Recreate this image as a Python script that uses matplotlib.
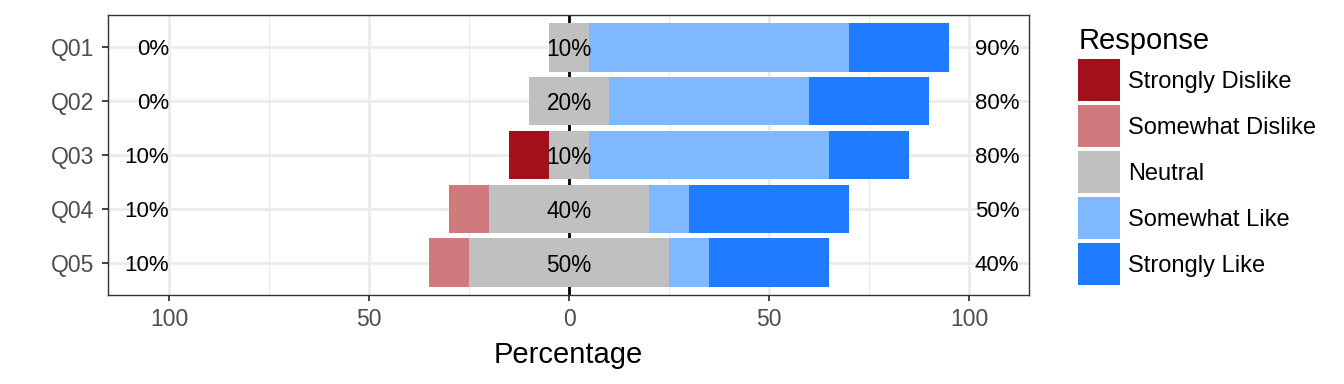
import matplotlib.pyplot as plt
from matplotlib.patches import Patch
from matplotlib.ticker import FixedLocator

plt.rcParams["font.family"] = ["Liberation Sans", "DejaVu Sans"]

items = ["Q01", "Q02", "Q03", "Q04", "Q05"]
levels = ["Strongly Dislike", "Somewhat Dislike", "Neutral", "Somewhat Like", "Strongly Like"]
colors = ["#A3121B", "#CF7B7E", "#C0C0C0", "#7FB8FF", "#1F7BFF"]

strongly_dislike = [0, 0, 10, 0, 0]
somewhat_dislike = [0, 0, 0, 10, 10]
neutral = [10, 20, 10, 40, 50]
somewhat_like = [65, 50, 60, 10, 10]
strongly_like = [25, 30, 20, 40, 30]

low_labels = ["0%", "0%", "10%", "10%", "10%"]
mid_labels = ["10%", "20%", "10%", "40%", "50%"]
high_labels = ["90%", "80%", "80%", "50%", "40%"]

fig = plt.figure(figsize=(13.44, 3.84), dpi=100)
ax = fig.add_axes([0.0804, 0.2318, 0.6852, 0.7291])

y = list(range(len(items)))
h = 0.9

# negative side: neutral centred on zero, dislikes stacked to the left
neg_start = [-n / 2 for n in neutral]
ax.barh(y, neutral, left=neg_start, height=h, color=colors[2], zorder=3)
left_sw = [s - w for s, w in zip(neg_start, somewhat_dislike)]
ax.barh(y, somewhat_dislike, left=left_sw, height=h, color=colors[1], zorder=3)
left_sd = [s - w for s, w in zip(left_sw, strongly_dislike)]
ax.barh(y, strongly_dislike, left=left_sd, height=h, color=colors[0], zorder=3)

pos_start = [n / 2 for n in neutral]
ax.barh(y, somewhat_like, left=pos_start, height=h, color=colors[3], zorder=3)
left_sl = [s + w for s, w in zip(pos_start, somewhat_like)]
ax.barh(y, strongly_like, left=left_sl, height=h, color=colors[4], zorder=3)

ax.axvline(0, color="black", lw=2, zorder=2)

for i in y:
    ax.text(-100, i, low_labels[i], ha="right", va="center_baseline", fontsize=16, zorder=4)
    ax.text(0, i, mid_labels[i], ha="center", va="center_baseline", fontsize=16.3, zorder=4)
    ax.text(101.5, i, high_labels[i], ha="left", va="center_baseline", fontsize=16, zorder=4)

ax.set_xlim(-115.25, 115)
ax.set_ylim(len(items) - 0.4, -0.6)
ax.set_yticks(y)
ax.set_yticklabels(items)
ax.set_xticks([-100, -50, 0, 50, 100])
ax.set_xticklabels(["100", "50", "0", "50", "100"])
ax.xaxis.set_minor_locator(FixedLocator([-75, -25, 25, 75]))
ax.tick_params(axis="both", which="major", labelsize=16.5, labelcolor="#4D4D4D",
               color="#333333", length=4.5, width=1.3)
ax.tick_params(axis="y", pad=5.5)
ax.tick_params(axis="x", pad=5)
ax.tick_params(axis="x", which="minor", length=0)
ax.grid(True, which="major", color="#EBEBEB", lw=2, zorder=0)
ax.grid(True, which="minor", axis="x", color="#EBEBEB", lw=1, zorder=0)
ax.set_axisbelow(True)
for s in ax.spines.values():
    s.set_color("#333333")
    s.set_linewidth(1)
ax.set_xlabel("Percentage", fontsize=21, labelpad=7)

handles = [Patch(facecolor=c, edgecolor="none") for c in colors]
leg = fig.legend(handles, levels, title="Response", loc="upper left",
                 bbox_to_anchor=(0.8022, 0.929), frameon=False, fontsize=17,
                 title_fontsize=21, handlelength=1.78, handleheight=2.36,
                 labelspacing=0.17, handletextpad=0.34, borderaxespad=0,
                 borderpad=0)
leg._legend_box.align = "left"

fig.savefig("out.png", dpi=100)
